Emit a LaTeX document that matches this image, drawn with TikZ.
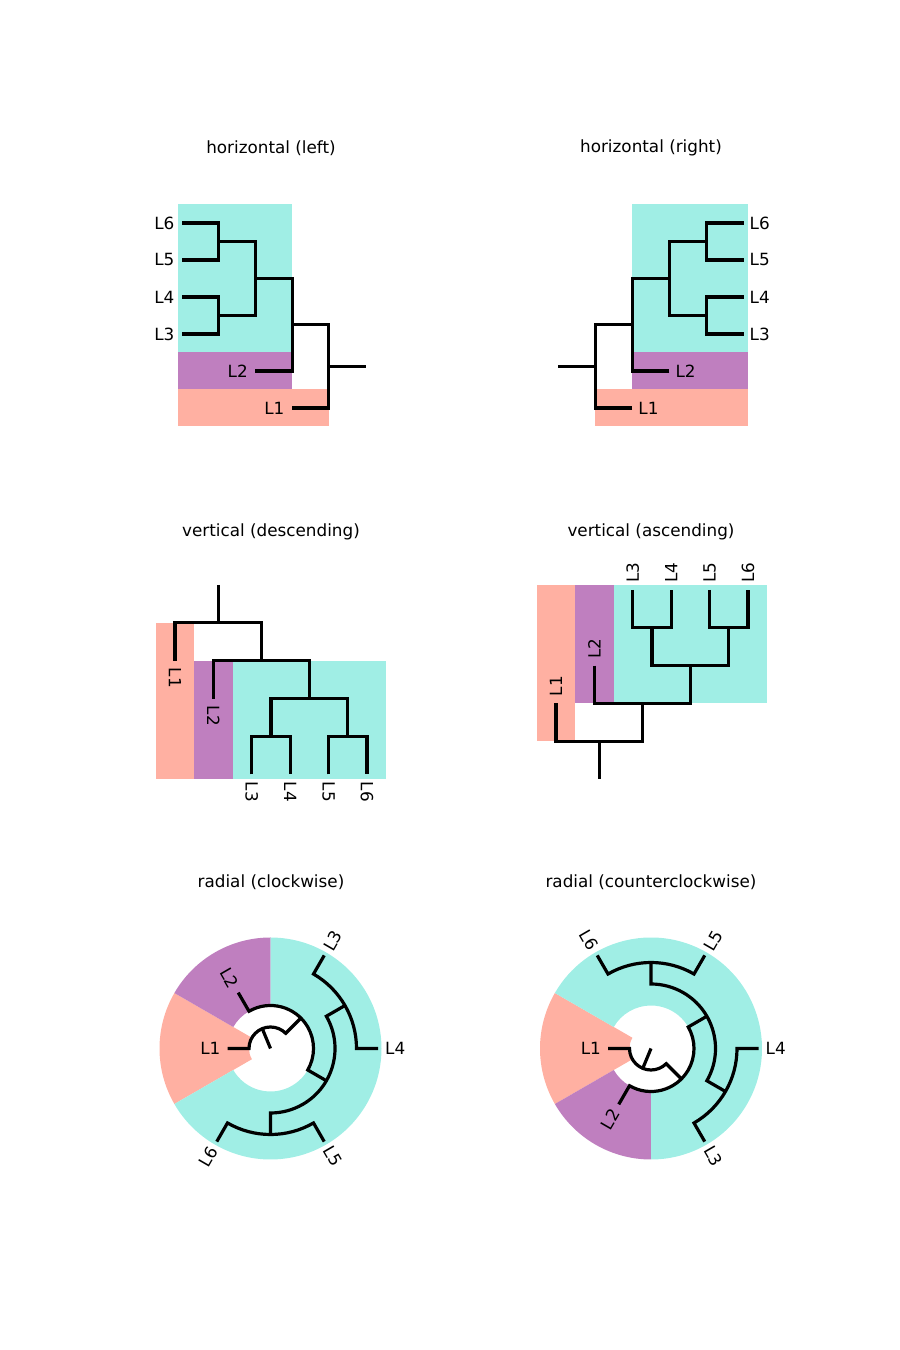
\documentclass[tikz,border=0pt]{standalone}
\usepackage{fontspec}
\setmainfont{DejaVu Sans}
\definecolor{tealbg}{RGB}{160,238,229}
\definecolor{purplebg}{RGB}{191,127,191}
\definecolor{salmonbg}{RGB}{255,176,162}
\newcommand{\cladogram}[3]{%
  \draw[branch] (#1r) -- (#1n1);
  \draw[branch] (#1L1) #2 (#1n1) #3 (#1n2);
  \draw[branch] (#1L2) #2 (#1n2) #3 (#1n3);
  \draw[branch] (#1n4) #2 (#1n3) #3 (#1n5);
  \draw[branch] (#1L3) #2 (#1n4) #3 (#1L4);
  \draw[branch] (#1L5) #2 (#1n5) #3 (#1L6);}
\begin{document}
\begin{tikzpicture}[x=1pt,y=1pt,every node/.style={font=\fontsize{16.8}{20}\selectfont},
  branch/.style={line width=3.2pt},leaf/.style={inner sep=0pt}]
\useasboundingbox (0,0) rectangle (900,1350);
% horizontal (left)
\node (ta) at (271,1202) {horizontal (left)};
\fill[tealbg] (178,997.5) rectangle (292.1,1145.5);
\fill[purplebg] (178,960.5) rectangle (292.1,997.5);
\fill[salmonbg] (178,923.5) rectangle (328.8,960.5);
\coordinate (ar) at (365.5,983.6);
\coordinate (an1) at (328.8,983.6);
\coordinate (an2) at (292.1,1025.25);
\coordinate (an3) at (255.4,1071.5);
\coordinate (an4) at (218.7,1034.5);
\coordinate (an5) at (218.7,1108.5);
\coordinate (aL1) at (292.1,942);
\coordinate (aL2) at (255.4,979);
\coordinate (aL3) at (182,1016);
\coordinate (aL4) at (182,1053);
\coordinate (aL5) at (182,1090);
\coordinate (aL6) at (182,1127);
\cladogram{a}{-|}{|-}
\node[leaf,anchor=east] (aLab1) at ([xshift=-7.5pt]aL1) {L1};
\node[leaf,anchor=east] (aLab2) at ([xshift=-7.5pt]aL2) {L2};
\node[leaf,anchor=east] (aLab3) at ([xshift=-7.5pt]aL3) {L3};
\node[leaf,anchor=east] (aLab4) at ([xshift=-7.5pt]aL4) {L4};
\node[leaf,anchor=east] (aLab5) at ([xshift=-7.5pt]aL5) {L5};
\node[leaf,anchor=east] (aLab6) at ([xshift=-7.5pt]aL6) {L6};
% horizontal (right)
\node (tb) at (651,1202) {horizontal (right)};
\fill[tealbg] (632.2,997.5) rectangle (747.5,1145.5);
\fill[purplebg] (632.2,960.5) rectangle (747.5,997.5);
\fill[salmonbg] (595.1,923.5) rectangle (747.5,960.5);
\coordinate (br) at (558,983.6);
\coordinate (bn1) at (595.1,983.6);
\coordinate (bn2) at (632.2,1025.25);
\coordinate (bn3) at (669.3,1071.5);
\coordinate (bn4) at (706.4,1034.5);
\coordinate (bn5) at (706.4,1108.5);
\coordinate (bL1) at (632.2,942);
\coordinate (bL2) at (669.3,979);
\coordinate (bL3) at (743.5,1016);
\coordinate (bL4) at (743.5,1053);
\coordinate (bL5) at (743.5,1090);
\coordinate (bL6) at (743.5,1127);
\cladogram{b}{-|}{|-}
\node[leaf,anchor=west] (bLab1) at ([xshift=6pt]bL1) {L1};
\node[leaf,anchor=west] (bLab2) at ([xshift=6pt]bL2) {L2};
\node[leaf,anchor=west] (bLab3) at ([xshift=6pt]bL3) {L3};
\node[leaf,anchor=west] (bLab4) at ([xshift=6pt]bL4) {L4};
\node[leaf,anchor=west] (bLab5) at ([xshift=6pt]bL5) {L5};
\node[leaf,anchor=west] (bLab6) at ([xshift=6pt]bL6) {L6};
% vertical (descending)
\node (tc) at (271,818) {vertical (descending)};
\fill[salmonbg] (155.8,570.5) rectangle (194.2,727.1);
\fill[purplebg] (194.2,570.5) rectangle (232.6,689.2);
\fill[tealbg] (232.6,570.5) rectangle (386.2,689.2);
\coordinate (cr) at (218.2,765);
\coordinate (cn1) at (218.2,727.1);
\coordinate (cn2) at (261.4,689.2);
\coordinate (cn3) at (309.4,651.3);
\coordinate (cn4) at (271,613.4);
\coordinate (cn5) at (347.8,613.4);
\coordinate (cL1) at (175,689.2);
\coordinate (cL2) at (213.4,651.3);
\coordinate (cL3) at (251.8,575.5);
\coordinate (cL4) at (290.2,575.5);
\coordinate (cL5) at (328.6,575.5);
\coordinate (cL6) at (367,575.5);
\cladogram{c}{|-}{-|}
\node[leaf,rotate=-90,anchor=west] (cLab1) at ([yshift=-7pt]cL1) {L1};
\node[leaf,rotate=-90,anchor=west] (cLab2) at ([yshift=-7pt]cL2) {L2};
\node[leaf,rotate=-90,anchor=west] (cLab3) at ([yshift=-7pt]cL3) {L3};
\node[leaf,rotate=-90,anchor=west] (cLab4) at ([yshift=-7pt]cL4) {L4};
\node[leaf,rotate=-90,anchor=west] (cLab5) at ([yshift=-7pt]cL5) {L5};
\node[leaf,rotate=-90,anchor=west] (cLab6) at ([yshift=-7pt]cL6) {L6};
% vertical (ascending)
\node (td) at (651,818) {vertical (ascending)};
\fill[salmonbg] (536.8,608.8) rectangle (575.2,765);
\fill[purplebg] (575.2,646.6) rectangle (613.6,765);
\fill[tealbg] (613.6,646.6) rectangle (767.2,765);
\coordinate (dr) at (599.2,571);
\coordinate (dn1) at (599.2,608.8);
\coordinate (dn2) at (642.4,646.6);
\coordinate (dn3) at (690.4,684.4);
\coordinate (dn4) at (652,722.2);
\coordinate (dn5) at (728.8,722.2);
\coordinate (dL1) at (556,646.6);
\coordinate (dL2) at (594.4,684.4);
\coordinate (dL3) at (632.8,760);
\coordinate (dL4) at (671.2,760);
\coordinate (dL5) at (709.6,760);
\coordinate (dL6) at (748,760);
\cladogram{d}{|-}{-|}
\node[leaf,rotate=90,anchor=west] (dLab1) at ([yshift=7pt]dL1) {L1};
\node[leaf,rotate=90,anchor=west] (dLab2) at ([yshift=7pt]dL2) {L2};
\node[leaf,rotate=90,anchor=west] (dLab3) at ([yshift=7pt]dL3) {L3};
\node[leaf,rotate=90,anchor=west] (dLab4) at ([yshift=7pt]dL4) {L4};
\node[leaf,rotate=90,anchor=west] (dLab5) at ([yshift=7pt]dL5) {L5};
\node[leaf,rotate=90,anchor=west] (dLab6) at ([yshift=7pt]dL6) {L6};
% radial (clockwise)
\node (te) at (271,468) {radial (clockwise)};
\begin{scope}[shift={(270.5,301.5)}]
\fill[salmonbg] (150:21.5) arc[start angle=150,end angle=210,radius=21.5] -- (210:111) arc[start angle=210,end angle=150,radius=111] -- cycle;
\fill[purplebg] (90:43) arc[start angle=90,end angle=150,radius=43] -- (150:111) arc[start angle=150,end angle=90,radius=111] -- cycle;
\fill[tealbg] (-150:43) arc[start angle=-150,end angle=90,radius=43] -- (90:111) arc[start angle=90,end angle=-150,radius=111] -- cycle;
\coordinate (e0) at (0,0);
\coordinate (en1) at (112.5:21.5);
\coordinate (en2) at (45:43);
\coordinate (en3) at (-30:64.5);
\coordinate (en4) at (30:86);
\coordinate (en5) at (-90:86);
\coordinate (eL1) at (180:43);
\coordinate (eL2) at (120:64.5);
\coordinate (eL3) at (60:107.5);
\coordinate (eL4) at (0:107.5);
\coordinate (eL5) at (-60:107.5);
\coordinate (eL6) at (-120:107.5);
\draw[branch] (e0) -- (en1);
\draw[branch] (eL1) -- (180:21.5) arc[start angle=180,end angle=45,radius=21.5] -- (en2);
\draw[branch] (eL2) -- (120:43) arc[start angle=120,end angle=-30,radius=43] -- (en3);
\draw[branch] (en4) -- (30:64.5) arc[start angle=30,end angle=-90,radius=64.5] -- (en5);
\draw[branch] (eL3) -- (60:86) arc[start angle=60,end angle=0,radius=86] -- (eL4);
\draw[branch] (eL5) -- (-60:86) arc[start angle=-60,end angle=-120,radius=86] -- (eL6);
\node[leaf,anchor=east] (eLab1) at (180:50) {L1};
\node[leaf,rotate=-60,anchor=east] (eLab2) at (120:71.5) {L2};
\node[leaf,rotate=60,anchor=west] (eLab3) at (60:114.5) {L3};
\node[leaf,anchor=west] (eLab4) at (0:114.5) {L4};
\node[leaf,rotate=-60,anchor=west] (eLab5) at (-60:114.5) {L5};
\node[leaf,rotate=60,anchor=east] (eLab6) at (-120:114.5) {L6};
\end{scope}
% radial (counterclockwise)
\node (tf) at (651,468) {radial (counterclockwise)};
\begin{scope}[shift={(651,301.5)}]
\fill[salmonbg] (150:21.5) arc[start angle=150,end angle=210,radius=21.5] -- (210:111) arc[start angle=210,end angle=150,radius=111] -- cycle;
\fill[purplebg] (210:43) arc[start angle=210,end angle=270,radius=43] -- (270:111) arc[start angle=270,end angle=210,radius=111] -- cycle;
\fill[tealbg] (270:43) arc[start angle=270,end angle=510,radius=43] -- (510:111) arc[start angle=510,end angle=270,radius=111] -- cycle;
\coordinate (f0) at (0,0);
\coordinate (fn1) at (247.5:21.5);
\coordinate (fn2) at (315:43);
\coordinate (fn3) at (30:64.5);
\coordinate (fn4) at (330:86);
\coordinate (fn5) at (90:86);
\coordinate (fL1) at (180:43);
\coordinate (fL2) at (240:64.5);
\coordinate (fL3) at (300:107.5);
\coordinate (fL4) at (0:107.5);
\coordinate (fL5) at (60:107.5);
\coordinate (fL6) at (120:107.5);
\draw[branch] (f0) -- (fn1);
\draw[branch] (fL1) -- (180:21.5) arc[start angle=180,end angle=315,radius=21.5] -- (fn2);
\draw[branch] (fL2) -- (240:43) arc[start angle=240,end angle=390,radius=43] -- (fn3);
\draw[branch] (fn4) -- (330:64.5) arc[start angle=330,end angle=450,radius=64.5] -- (fn5);
\draw[branch] (fL3) -- (300:86) arc[start angle=300,end angle=360,radius=86] -- (fL4);
\draw[branch] (fL5) -- (60:86) arc[start angle=60,end angle=120,radius=86] -- (fL6);
\node[leaf,anchor=east] (fLab1) at (180:50) {L1};
\node[leaf,rotate=60,anchor=east] (fLab2) at (240:71.5) {L2};
\node[leaf,rotate=-60,anchor=west] (fLab3) at (300:114.5) {L3};
\node[leaf,anchor=west] (fLab4) at (0:114.5) {L4};
\node[leaf,rotate=60,anchor=west] (fLab5) at (60:114.5) {L5};
\node[leaf,rotate=-60,anchor=east] (fLab6) at (120:114.5) {L6};
\end{scope}
\end{tikzpicture}
\end{document}
